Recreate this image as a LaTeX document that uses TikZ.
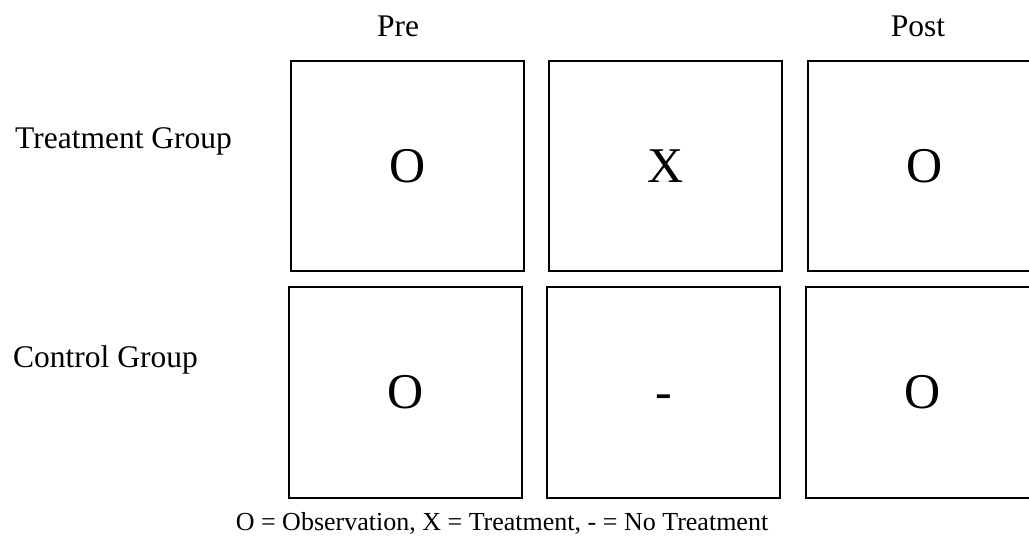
\documentclass[tikz,border=0pt]{standalone}
\usepackage{fontspec}
\setmainfont{Liberation Serif}
\begin{document}
\begin{tikzpicture}[x=1pt, y=-1pt,
    cell/.style={draw, line width=1.4pt, inner sep=0pt,
        minimum width=233pt, minimum height=210pt,
        font=\fontsize{50}{50}\selectfont},
    lbl/.style={inner sep=0pt, font=\fontsize{31.5}{31.5}\selectfont},
    keytext/.style={inner sep=0pt, font=\fontsize{26}{26}\selectfont}]
    \useasboundingbox (0,0) rectangle (1029,546);
    \clip (0,0) rectangle (1029,546);

    % --- Column headers ---
    \node[lbl, anchor=base] (pre)  at (398,36) {Pre};
    \node[lbl, anchor=base] (post) at (918,36) {Post};

    % --- Row labels ---
    \node[lbl, anchor=base west] (treat) at (15,148) {Treatment Group};
    \node[lbl, anchor=base west] (ctrl)  at (13,367) {Control Group};

    % --- Treatment row ---
    \node[cell] (t1) at (407.5,166) {O};
    \node[cell] (t2) at (665.5,166) {X};
    \node[cell] (t3) at (924.5,166) {O};

    % --- Control row ---
    \node[cell, minimum height=211pt] (c1) at (405.5,392.5) {O};
    \node[cell, minimum height=211pt] (c2) at (663.5,392.5) {\raisebox{-16pt}[0pt][0pt]{-}};
    \node[cell, minimum height=211pt] (c3) at (922.5,392.5) {O};

    % --- Legend ---
    \node[keytext] (key) at (502,523) {O = Observation, X = Treatment, - = No Treatment};
\end{tikzpicture}
\end{document}
